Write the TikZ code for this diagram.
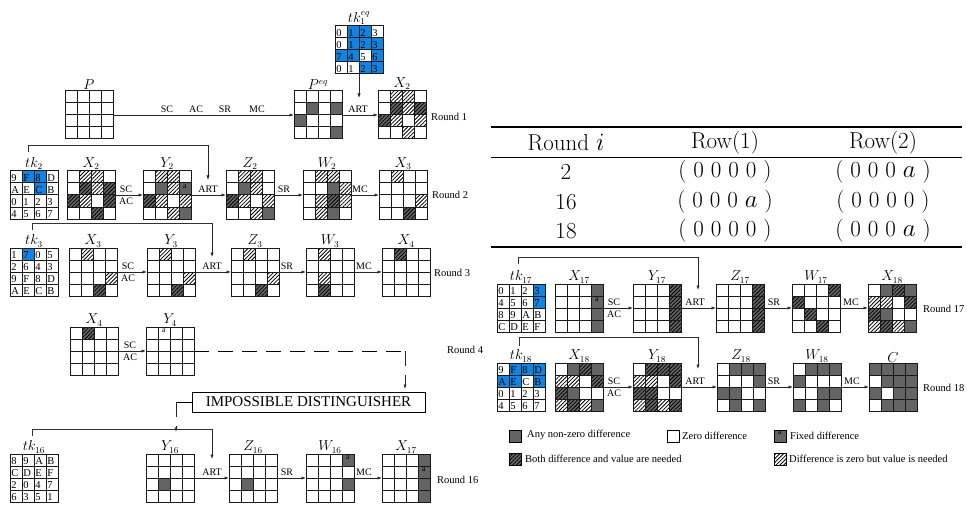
\documentclass[tikz,border=0pt]{standalone}
\usepackage{fontspec}
\newfontfamily\tnr{Liberation Serif}
\usetikzlibrary{arrows.meta,patterns.meta,calc}
\definecolor{cgray}{RGB}{100,100,100}
\definecolor{cblue}{RGB}{16,132,224}
\tikzset{
  gl/.style={line width=1pt, draw=black!90},
  gridnode/.style={rectangle, minimum width=48pt, minimum height=48pt, inner sep=0pt, outer sep=0pt},
  hatch/.style={pattern={Lines[angle=45,distance=2.7pt,line width=0.8pt]}, pattern color=black},
  cellw/.style={fill=white},
  cellg/.style={fill=cgray},
  celld/.style={fill=cgray, postaction={hatch}},
  cellh/.style={fill=white, postaction={hatch}},
  tkw/.style={fill=white},
  tkb/.style={fill=cblue},
  tknum/.style={font=\tnr\fontsize{10.5}{11}\selectfont, anchor=west, inner sep=0.3pt},
  amark/.style={font=\tnr\fontsize{8}{9}\selectfont, inner sep=0pt},
  arr/.style={-{Latex[length=4.5pt,width=3.2pt]}, line width=0.7pt, draw=black!85},
  conn/.style={line width=0.9pt, draw=black!80},
  dsh/.style={dash pattern=on 15pt off 9pt, line width=0.9pt},
  op/.style={font=\tnr\fontsize{10}{12}\selectfont, inner sep=0.5pt},
  opup/.style={op, anchor=south},
  opdn/.style={op, anchor=north},
  rnd/.style={font=\tnr\fontsize{10.5}{12}\selectfont, anchor=west, inner sep=0pt},
  lab/.style={font=\fontsize{13.5}{15}\selectfont, anchor=south, inner sep=0.8pt},
  tbl/.style={font=\fontsize{23}{26}\selectfont, inner sep=0pt},
  legbox/.style={rectangle, minimum width=12pt, minimum height=12pt, inner sep=0pt, draw=black, line width=0.6pt},
  legtext/.style={font=\tnr\fontsize{10.5}{12}\selectfont, anchor=west, inner sep=0pt}
}
% state grid: name, x, y (top-left), 16 cell codes
\newcommand\sgrid[4]{%
  \node[gridnode] (#1) at ({#2+24},{#3+24}) {};
  \foreach \cc [count=\ii from 0] in {#4}{%
    \pgfmathtruncatemacro\rowi{\ii/4}%
    \pgfmathtruncatemacro\coli{\ii-4*\rowi}%
    \path[cell\cc] ({#2+12*\coli},{#3+12*\rowi}) rectangle ++(12,12);
  }%
  \draw[gl] (#2,#3) rectangle ++(48,48);
  \foreach \k in {1,2,3}{%
    \draw[gl] ({#2+12*\k},#3) -- ++(0,48);
    \draw[gl] (#2,{#3+12*\k}) -- ++(48,0);
  }%
}
% tweakey grid: name, x, y, 16 entries value/colour
\newcommand\tkgrid[4]{%
  \node[gridnode] (#1) at ({#2+24},{#3+24}) {};
  \foreach \vv/\cc [count=\ii from 0] in {#4}{%
    \pgfmathtruncatemacro\rowi{\ii/4}%
    \pgfmathtruncatemacro\coli{\ii-4*\rowi}%
    \path[tk\cc] ({#2+12*\coli},{#3+12*\rowi}) rectangle ++(12,12);
    \node[tknum] (#1-\ii) at ({#2+12*\coli+0.8},{#3+12*\rowi+6.8}) {\vv};
  }%
  \draw[gl] (#2,#3) rectangle ++(48,48);
  \foreach \k in {1,2,3}{%
    \draw[gl] ({#2+12*\k},#3) -- ++(0,48);
    \draw[gl] (#2,{#3+12*\k}) -- ++(48,0);
  }%
}
\begin{document}
\begin{tikzpicture}[x=1pt,y=-1pt]
\fill[white] (0,0) rectangle (967,508);
\useasboundingbox (0,0) rectangle (967,508);

% ---------------- Round 1 ----------------
\sgrid{P}{65}{91}{w,w,w,w, w,w,w,w, w,w,w,w, w,w,w,w}
\sgrid{Peq}{294}{91}{w,w,w,w, w,g,w,g, g,w,w,w, w,w,w,g}
\sgrid{Xa}{378}{91}{w,h,h,w, w,d,h,d, d,h,w,h, w,w,h,w}
\tkgrid{tkeq}{335}{26}{0/w,1/b,2/b,3/w, 0/w,1/b,2/b,3/b, 7/b,4/b,5/w,6/b, 0/w,1/w,2/b,3/b}
\node[lab] (lP) at (P.north) {$P$};
\node[lab] (lPeq) at (Peq.north) {$P^{eq}$};
\node[lab] (lXa) at (Xa.north) {$X_2$};
\node[lab] (ltkeq) at (tkeq.north) {$tk_1^{eq}$};
\draw[arr] (P) -- (Peq);
\node[opup] (o1a) at (167,113) {SC};
\node[opup] (o1b) at (196,113) {AC};
\node[opup] (o1c) at (225,113) {SR};
\node[opup] (o1d) at (257,113) {MC};
\draw[arr] (Peq) -- (Xa);
\node[opup] (o1e) at (358,113) {ART};
\coordinate (t1) at (359,98);
\draw[arr] (tkeq.south) -- (t1);
\node[rnd] (r1) at (431,117) {Round 1};

% ---------------- Round 2 ----------------
\tkgrid{tkb}{10}{171}{9/w,F/b,8/b,D/w, A/w,E/w,C/b,B/w, 0/w,1/w,2/w,3/w, 4/w,5/w,6/w,7/w}
\sgrid{Xb}{67}{171}{w,h,h,w, w,d,h,d, d,h,w,d, w,w,d,w}
\sgrid{Yb}{143}{171}{w,h,h,w, w,g,h,g, d,h,w,h, w,w,h,g}
\sgrid{Zb}{226}{171}{w,h,h,w, w,g,h,w, d,h,w,h, w,w,h,g}
\sgrid{Wb}{303}{171}{w,h,h,w, w,w,g,h, w,h,d,h, w,h,g,w}
\sgrid{Xc}{379}{171}{w,h,w,w, w,w,w,w, w,w,w,h, w,w,d,w}
\node[amark] (aYb) at (185,186.5) {a};
\node[lab] (ltkb) at (tkb.north) {$tk_2$};
\node[lab] (lXb) at (Xb.north) {$X_2$};
\node[lab] (lYb) at (Yb.north) {$Y_2$};
\node[lab] (lZb) at (Zb.north) {$Z_2$};
\node[lab] (lWb) at (Wb.north) {$W_2$};
\node[lab] (lXc) at (Xc.north) {$X_3$};
\draw[arr] (Xb) -- (Yb);
\node[opup] (o2a) at (126,193) {SC};
\node[opdn] (o2b) at (126,197) {AC};
\draw[arr] (Yb) -- (Zb);
\node[opup] (o2c) at (208,193) {ART};
\draw[arr] (Zb) -- (Wb);
\node[opup] (o2d) at (284,193) {SR};
\draw[arr] (Wb) -- (Xc);
\node[opup] (o2e) at (360,193) {MC};
\coordinate (kb1) at (28,152);
\coordinate (kb2) at (208,145);
\coordinate (kb3) at (208,180);
\draw[conn] (kb1) |- (kb2);
\draw[arr] (kb2) -- (kb3);
\node[rnd] (r2) at (432,195) {Round 2};

% ---------------- Round 3 ----------------
\tkgrid{tkc}{10}{248}{1/w,7/b,0/w,5/w, 2/w,6/w,4/w,3/w, 9/w,F/w,8/w,D/w, A/w,E/w,C/w,B/w}
\sgrid{Xc3}{69}{248}{w,h,w,w, w,w,w,w, w,w,w,h, w,w,d,w}
\sgrid{Yc}{147}{248}{w,h,w,w, w,w,w,w, w,w,w,h, w,w,d,w}
\sgrid{Zc}{231}{248}{w,h,w,w, w,w,w,w, w,w,w,h, w,w,d,w}
\sgrid{Wc}{306}{248}{w,h,w,w, w,w,w,w, w,h,w,w, w,d,w,w}
\sgrid{Xd}{382}{248}{w,d,w,w, w,w,w,w, w,w,w,w, w,w,w,w}
\node[lab] (ltkc) at (tkc.north) {$tk_3$};
\node[lab] (lXc3) at (Xc3.north) {$X_3$};
\node[lab] (lYc) at (Yc.north) {$Y_3$};
\node[lab] (lZc) at (Zc.north) {$Z_3$};
\node[lab] (lWc) at (Wc.north) {$W_3$};
\node[lab] (lXd) at (Xd.north) {$X_4$};
\draw[arr] (Xc3) -- (Yc);
\node[opup] (o3a) at (128,270) {SC};
\node[opdn] (o3b) at (128,274) {AC};
\draw[arr] (Yc) -- (Zc);
\node[opup] (o3c) at (212,270) {ART};
\draw[arr] (Zc) -- (Wc);
\node[opup] (o3d) at (287,270) {SR};
\draw[arr] (Wc) -- (Xd);
\node[opup] (o3e) at (364,270) {MC};
\coordinate (kc1) at (32,230);
\coordinate (kc2) at (212,223);
\coordinate (kc3) at (212,257);
\draw[conn] (kc1) |- (kc2);
\draw[arr] (kc2) -- (kc3);
\node[rnd] (r3) at (434,273) {Round 3};

% ---------------- Round 4 ----------------
\sgrid{Xd4}{70}{327}{w,d,w,w, w,w,w,w, w,w,w,w, w,w,w,w}
\sgrid{Yd}{146}{327}{w,w,w,w, w,w,w,w, w,w,w,w, w,w,w,w}
\node[amark] (aYd) at (164,330.5) {a};
\node[lab] (lXd4) at (Xd4.north) {$X_4$};
\node[lab] (lYd) at (Yd.north) {$Y_4$};
\draw[arr] (Xd4) -- (Yd);
\node[opup] (o4a) at (130,349) {SC};
\node[opdn] (o4b) at (130,353) {AC};
\node[rnd] (r4) at (447,350) {Round 4};
\node[draw, line width=0.9pt, minimum width=233pt, minimum height=20pt, inner sep=0pt,
      font=\tnr\fontsize{15}{17}\selectfont] (ID) at (308.5,402) {IMPOSSIBLE DISTINGUISHER};
\coordinate (d1) at (405,351);
\coordinate (d2) at (405,389);
\draw[dsh] (Yd) -- (d1);
\draw[dsh, arr] (d1) -- (d2);
\coordinate (d3) at (176,402);
\coordinate (d4) at (176,432);
\draw[dsh] (ID.west) -- (d3);
\draw[dsh, arr] (d3) -- (d4);

% ---------------- Round 16 ----------------
\tkgrid{tkp}{10}{454}{8/w,9/w,A/w,B/w, C/w,D/w,E/w,F/w, 2/w,0/w,4/w,7/w, 6/w,3/w,5/w,1/w}
\sgrid{Yp}{146}{454}{w,w,w,w, w,w,w,w, w,g,w,w, w,w,w,w}
\sgrid{Zp}{229}{454}{w,w,w,w, w,w,w,w, w,g,w,w, w,w,w,w}
\sgrid{Wp}{306}{454}{w,w,w,g, w,w,w,w, w,w,w,g, w,w,w,w}
\sgrid{Xq}{382}{454}{w,w,w,g, w,w,w,g, w,w,w,g, w,w,w,g}
\node[amark] (aWp) at (348,457.5) {a};
\node[amark] (aXq) at (424,469.5) {a};
\node[lab] (ltkp) at (tkp.north) {$tk_{16}$};
\node[lab] (lYp) at (Yp.north) {$Y_{16}$};
\node[lab] (lZp) at (Zp.north) {$Z_{16}$};
\node[lab] (lWp) at (Wp.north) {$W_{16}$};
\node[lab] (lXq) at (Xq.north) {$X_{17}$};
\draw[arr] (Yp) -- (Zp);
\node[opup] (o16a) at (212,476) {ART};
\draw[arr] (Zp) -- (Wp);
\node[opup] (o16b) at (287,476) {SR};
\draw[arr] (Wp) -- (Xq);
\node[opup] (o16c) at (364,476) {MC};
\coordinate (kp1) at (32,436);
\coordinate (kp2) at (212,429);
\coordinate (kp3) at (212,459);
\draw[conn] (kp1) |- (kp2);
\draw[arr] (kp2) -- (kp3);
\node[rnd] (r16) at (437,480) {Round 16};

% ---------------- Table ----------------
\draw[line width=1.2pt] (491,127) -- (962,127);
\draw[line width=0.8pt] (491,157) -- (962,157);
\draw[line width=1.2pt] (491,247) -- (962,247);
\node[tbl] (th1) at (566,143) {Round $i$};
\node[tbl] (th2) at (725,143) {Row(1)};
\node[tbl] (th3) at (883,143) {Row(2)};
\node[tbl] (ta1) at (566,172) {2};
\node[tbl] (ta2) at (725,172) {( 0 0 0 0 )};
\node[tbl] (ta3) at (883,172) {( 0 0 0 $a$ )};
\node[tbl] (tb1) at (566,202) {16};
\node[tbl] (tb2) at (725,202) {( 0 0 0 $a$ )};
\node[tbl] (tb3) at (883,202) {( 0 0 0 0 )};
\node[tbl] (tc1) at (566,231) {18};
\node[tbl] (tc2) at (725,231) {( 0 0 0 0 )};
\node[tbl] (tc3) at (883,231) {( 0 0 0 $a$ )};

% ---------------- Round 17 ----------------
\tkgrid{tkq}{497}{284}{0/w,1/w,2/w,3/b, 4/w,5/w,6/w,7/b, 8/w,9/w,A/w,B/w, C/w,D/w,E/w,F/w}
\sgrid{Xq2}{555}{284}{w,w,w,g, w,w,w,g, w,w,w,g, w,w,w,g}
\sgrid{Yq}{633}{284}{w,w,w,d, w,w,w,d, w,w,w,d, w,w,w,d}
\sgrid{Zq}{716}{284}{w,w,w,d, w,w,w,d, w,w,w,d, w,w,w,d}
\sgrid{Wq}{792}{284}{w,w,w,d, d,w,w,w, w,d,w,w, w,w,d,w}
\sgrid{Xr}{868}{284}{w,g,d,g, h,h,w,d, d,g,w,w, h,d,h,g}
\node[amark] (aXq2) at (597,299.5) {a};
\node[lab] (ltkq) at (tkq.north) {$tk_{17}$};
\node[lab] (lXq2) at (Xq2.north) {$X_{17}$};
\node[lab] (lYq) at (Yq.north) {$Y_{17}$};
\node[lab] (lZq) at (Zq.north) {$Z_{17}$};
\node[lab] (lWq) at (Wq.north) {$W_{17}$};
\node[lab] (lXr) at (Xr.north) {$X_{18}$};
\draw[arr] (Xq2) -- (Yq);
\node[opup] (o17a) at (614,306) {SC};
\node[opdn] (o17b) at (614,310) {AC};
\draw[arr] (Yq) -- (Zq);
\node[opup] (o17c) at (695,306) {ART};
\draw[arr] (Zq) -- (Wq);
\node[opup] (o17d) at (774,306) {SR};
\draw[arr] (Wq) -- (Xr);
\node[opup] (o17e) at (851,306) {MC};
\coordinate (kq1) at (518,264);
\coordinate (kq2) at (698,257);
\coordinate (kq3) at (698,290);
\draw[conn] (kq1) |- (kq2);
\draw[arr] (kq2) -- (kq3);
\node[rnd] (r17) at (923,309) {Round 17};

% ---------------- Round 18 ----------------
\tkgrid{tkr}{497}{363}{9/w,F/b,8/b,D/b, A/b,E/b,C/w,B/b, 0/w,1/w,2/w,3/w, 4/w,5/w,6/w,7/w}
\sgrid{Xr2}{555}{363}{w,g,d,g, h,h,w,d, d,g,w,w, h,d,h,g}
\sgrid{Yr}{633}{363}{w,d,d,d, h,h,w,d, d,d,w,w, h,d,h,d}
\sgrid{Zr}{717}{363}{w,g,g,g, w,w,w,g, g,g,w,w, w,g,w,g}
\sgrid{Wr}{793}{363}{w,g,g,g, g,w,w,w, w,w,g,g, g,w,g,w}
\sgrid{Cr}{869}{363}{g,g,g,g, w,g,g,g, g,w,g,g, w,g,g,g}
\node[lab] (ltkr) at (tkr.north) {$tk_{18}$};
\node[lab] (lXr2) at (Xr2.north) {$X_{18}$};
\node[lab] (lYr) at (Yr.north) {$Y_{18}$};
\node[lab] (lZr) at (Zr.north) {$Z_{18}$};
\node[lab] (lWr) at (Wr.north) {$W_{18}$};
\node[lab] (lCr) at (Cr.north) {$C$};
\draw[arr] (Xr2) -- (Yr);
\node[opup] (o18a) at (614,385) {SC};
\node[opdn] (o18b) at (614,389) {AC};
\draw[arr] (Yr) -- (Zr);
\node[opup] (o18c) at (695,385) {ART};
\draw[arr] (Zr) -- (Wr);
\node[opup] (o18d) at (774,385) {SR};
\draw[arr] (Wr) -- (Cr);
\node[opup] (o18e) at (852,385) {MC};
\coordinate (kr1) at (519,346);
\coordinate (kr2) at (698,337);
\coordinate (kr3) at (698,369);
\draw[conn] (kr1) |- (kr2);
\draw[arr] (kr2) -- (kr3);
\node[rnd] (r18) at (923,388) {Round 18};

% ---------------- Legend ----------------
\node[legbox, fill=cgray] (L1) at (515,436) {};
\node[legtext] (L1t) at (527,435) {Any non-zero difference};
\node[legbox, fill=white] (L2) at (673,436) {};
\node[legtext] (L2t) at (682,436) {Zero difference};
\node[legbox, fill=cgray] (L3) at (780,436) {};
\node[amark] (L3a) at (780,433) {a};
\node[legtext] (L3t) at (790,436) {Fixed difference};
\node[legbox, celld] (L4) at (515,459) {};
\node[legtext] (L4t) at (525,459) {Both difference and value are needed};
\node[legbox, cellh] (L5) at (780,459) {};
\node[legtext] (L5t) at (789,459) {Difference is zero but value is needed};
\end{tikzpicture}
\end{document}
